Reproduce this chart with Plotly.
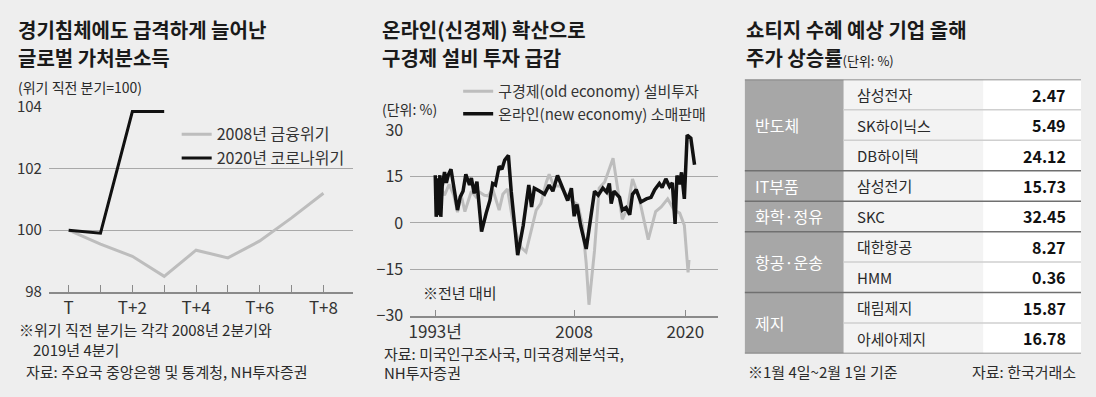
import plotly.graph_objects as go

W, H = 1096, 397
FONT = "Noto Sans CJK KR, Noto Sans, sans-serif"
BG = "#eeeeee"
GRID = "#a8a8a8"
AXIS = "#8a8a8a"
TXT = "#2a2a2a"

# ---------------- Panel 1 data ----------------
p1_x = [0, 1, 2, 3, 4, 5, 6, 7, 8]
p1_ticktext = ["T", "", "T+2", "", "T+4", "", "T+6", "", "T+8"]
crisis2008 = [100, 99.55, 99.15, 98.5, 99.35, 99.1, 99.65, 100.4, 101.2]
covid_x = [0, 1, 2, 3]
covid2020 = [100, 99.9, 103.85, 103.85]
p1_yticks = [98, 100, 102, 104]

# ---------------- Panel 2 data ----------------
new_years = [1993.0, 1993.1, 1993.25, 1993.35, 1993.5, 1993.6, 1993.75, 1994.0, 1994.2, 1994.4,
             1994.7, 1995.1, 1995.4, 1995.7, 1996.0, 1996.3, 1996.7, 1996.9, 1997.2, 1997.5,
             1997.8, 1998.0, 1998.5, 1998.9, 1999.2, 1999.5, 1999.9, 2000.2, 2000.5, 2000.9,
             2001.2, 2001.9, 2002.5, 2003.1, 2003.4, 2003.7, 2004.3, 2004.8, 2005.3, 2005.7,
             2006.2, 2006.8, 2007.3, 2007.7, 2008.0, 2008.3, 2008.7, 2009.3, 2009.8, 2010.2,
             2010.6, 2011.1, 2011.5, 2011.8, 2012.0, 2012.3, 2012.9, 2013.2, 2013.6, 2014.0,
             2014.3, 2014.7, 2015.2, 2015.8, 2016.3, 2016.7, 2017.2, 2017.5, 2017.9, 2018.3,
             2018.6, 2018.9, 2019.1, 2019.35, 2019.6, 2019.9, 2020.2, 2020.6, 2021.0]
new_vals = [15.5, 2.0, 14.5, 2.5, 15.5, 2.0, 12.0, 16.5, 13.0, 15.5,
            17.4, 10.3, 4.2, 8.5, 10.3, 15.8, 12.3, 14.6, 9.6, 13.4,
            4.2, -2.8, 3.2, 7.3, 12.8, 12.3, 18.4, 17.4, 20.4, 21.9,
            10.3, -10.4, -0.8, 12.3, 5.2, 11.3, 10.3, 9.3, 12.3, 10.3,
            15.4, 11.3, 7.3, 11.3, 2.2, 6.0, -0.8, -8.4, 1.2, 10.3,
            9.0, 11.3, 10.0, 12.8, 6.3, 10.3, 8.3, 4.2, 5.0, 2.7,
            9.3, 10.8, 6.8, 7.8, 8.3, 10.8, 12.8, 11.5, 14.3, 11.8,
            13.0, -0.3, 15.4, 12.5, 16.4, 7.8, 28.5, 27.5, 18.9]

old_years = [1993.0, 1993.5, 1994.0, 1994.5, 1995.0, 1995.4, 1995.8, 1996.2, 1996.9, 1997.4,
             1997.8, 1998.3, 1998.7, 1999.2, 1999.9, 2000.3, 2000.8, 2001.3, 2001.8, 2002.3,
             2002.8, 2003.4, 2003.9, 2004.4, 2005.0, 2005.3, 2005.8, 2006.5, 2007.2, 2007.8,
             2008.4, 2008.9, 2009.3, 2009.6, 2010.2, 2010.7, 2011.3, 2012.2, 2012.7, 2013.2,
             2013.8, 2014.3, 2015.0, 2016.0, 2016.8, 2017.4, 2018.1, 2018.8, 2019.4, 2019.9,
             2020.3, 2020.4]
old_vals = [10.0, 12.0, 9.0, 12.5, 9.0, 3.5, 9.0, 3.7, 10.3, 8.5,
            10.0, 9.0, 8.8, 11.0, 4.2, 9.3, 11.0, 2.0, -4.0, -8.0,
            -9.4, -1.8, 4.2, 6.3, 13.3, 15.8, 12.0, 12.0, 9.0, 7.0,
            6.0, -0.8, -13.0, -26.5, -8.9, 11.3, 13.3, 21.0, 11.3, 1.2,
            5.2, 14.3, 8.3, -5.4, 3.7, 5.2, 7.8, 4.2, 3.2, -0.8,
            -16.0, -12.0]
p2_yticks = [-30, -15, 0, 15, 30]
p2_xticks = [1993, 2008, 2020]
p2_xticktext = ["1993년", "2008", "2020"]

# ---------------- Panel 3 data ----------------
groups = ["반도체", "IT부품", "화학·정유", "항공·운송", "제지"]
group_sizes = [3, 1, 1, 2, 2]
companies = ["삼성전자", "SK하이닉스", "DB하이텍", "삼성전기", "SKC", "대한항공", "HMM", "대림제지", "아세아제지"]
returns = [2.47, 5.49, 24.12, 15.73, 32.45, 8.27, 0.36, 15.87, 16.78]


def px(x):
    return x / W


def py(y):
    return 1 - y / H


fig = go.Figure()

# Panel 1 traces
fig.add_trace(go.Scatter(x=p1_x, y=crisis2008, mode="lines", name="2008년 금융위기",
                         line=dict(color="#bdbdbd", width=3), xaxis="x", yaxis="y", legend="legend"))
fig.add_trace(go.Scatter(x=covid_x, y=covid2020, mode="lines", name="2020년 코로나위기",
                         line=dict(color="#111111", width=3), xaxis="x", yaxis="y", legend="legend"))

# Panel 2 traces
fig.add_trace(go.Scatter(x=old_years, y=old_vals, mode="lines", name="구경제(old economy) 설비투자",
                         line=dict(color="#bdbdbd", width=3), xaxis="x2", yaxis="y2", legend="legend2"))
fig.add_trace(go.Scatter(x=new_years, y=new_vals, mode="lines", name="온라인(new economy) 소매판매",
                         line=dict(color="#111111", width=3.5), xaxis="x2", yaxis="y2", legend="legend2"))

# ---------------- Panel 3 table (shapes on axis 3) ----------------
COL1, COL2 = 0.294, 0.709
shapes = []
n_rows = len(companies)
for i in range(n_rows):
    shapes.append(dict(type="rect", xref="x3", yref="y3", x0=COL1, x1=COL2, y0=i, y1=i + 1,
                       fillcolor="#f3f3f3", line=dict(width=0), layer="below"))
    shapes.append(dict(type="rect", xref="x3", yref="y3", x0=COL2, x1=1, y0=i, y1=i + 1,
                       fillcolor="#ffffff", line=dict(width=0), layer="below"))
start = 0
group_starts = []
for g, n in zip(groups, group_sizes):
    group_starts.append(start)
    shapes.append(dict(type="rect", xref="x3", yref="y3", x0=0, x1=COL1, y0=start, y1=start + n,
                       fillcolor="#a7a7a7", line=dict(width=0), layer="below"))
    start += n
group_edges = set(group_starts + [n_rows])
for i in range(1, n_rows):
    if i not in group_edges:
        shapes.append(dict(type="line", xref="x3", yref="y3", x0=COL1, x1=1, y0=i, y1=i,
                           line=dict(color="#cfcfcf", width=1.5)))
for e in sorted(group_edges):
    shapes.append(dict(type="line", xref="x3", yref="y3", x0=0, x1=1, y0=e, y1=e,
                       line=dict(color="#707070", width=1.5)))

annotations = []


def txt(x, y, s, size=15, color=TXT, xanchor="left", weight="normal", **kw):
    annotations.append(dict(x=px(x), y=py(y), xref="paper", yref="paper", text=s, showarrow=False,
                            xanchor=xanchor, yanchor="middle",
                            font=dict(family=FONT, size=size, color=color, weight=weight), **kw))


for g, n, s in zip(groups, group_sizes, group_starts):
    annotations.append(dict(x=0.024, y=s + n / 2, xref="x3", yref="y3", text=g, showarrow=False,
                            xanchor="left", yanchor="middle",
                            font=dict(family=FONT, size=16, color="#ffffff")))
for i, (c, v) in enumerate(zip(companies, returns)):
    annotations.append(dict(x=0.329, y=i + 0.5, xref="x3", yref="y3", text=c, showarrow=False,
                            xanchor="left", yanchor="middle",
                            font=dict(family=FONT, size=15, color=TXT)))
    annotations.append(dict(x=0.96, y=i + 0.5, xref="x3", yref="y3", text=f"{v:.2f}", showarrow=False,
                            xanchor="right", yanchor="middle",
                            font=dict(family=FONT, size=16, color="#111111", weight="bold")))

# Titles and notes
TITLE = "#1a1a1a"
txt(14, 18, "경기침체에도 급격하게 늘어난", size=20, color=TITLE, weight="bold")
txt(14, 47, "글로벌 가처분소득", size=20, color=TITLE, weight="bold")
txt(14, 79, "(위기 직전 분기=100)", size=14)
txt(15, 337, "※위기 직전 분기는 각각 2008년 2분기와", size=15)
txt(29, 358, "2019년 4분기", size=15)
txt(22, 382, "자료: 주요국 중앙은행 및 통계청, NH투자증권", size=15)

txt(379, 18, "온라인(신경제) 확산으로", size=20, color=TITLE, weight="bold")
txt(379, 47, "구경제 설비 투자 급감", size=20, color=TITLE, weight="bold")
txt(379, 102, "(단위: %)", size=14)
txt(420, 298, "※전년 대비", size=15)
txt(381, 362, "자료: 미국인구조사국, 미국경제분석국,", size=15)
txt(381, 383, "NH투자증권", size=15)

txt(743, 18, "쇼티지 수혜 예상 기업 올해", size=20, color=TITLE, weight="bold")
txt(743, 47, "주가 상승률<span style='font-size:13px;font-weight:normal'>(단위: %)</span>", size=20,
    color=TITLE, weight="bold")
txt(745, 382, "※1월 4일~2월 1일 기준", size=15)
txt(1078, 382, "자료: 한국거래소", size=15, xanchor="right")

fig.update_layout(
    width=W, height=H, autosize=False,
    margin=dict(l=0, r=0, t=0, b=0, pad=0),
    paper_bgcolor=BG, plot_bgcolor=BG,
    font=dict(family=FONT, color=TXT),
    showlegend=True,
    xaxis=dict(domain=[px(47), px(352)], range=[-0.62, 8.94], tickvals=p1_x, ticktext=p1_ticktext,
               ticks="inside", ticklen=7, tickcolor=AXIS, showgrid=False, zeroline=False,
               showline=True, linecolor=AXIS, linewidth=1.5,
               tickfont=dict(family=FONT, size=17, color="#333333"), anchor="y", fixedrange=True),
    yaxis=dict(domain=[py(296.7), py(100)], range=[98, 104], tickvals=p1_yticks,
               showgrid=True, gridcolor=GRID, gridwidth=1, zeroline=False, showline=False,
               ticks="", tickfont=dict(family=FONT, size=15, color="#333333"), ticklabelstandoff=6,
               anchor="x", fixedrange=True),
    xaxis2=dict(domain=[px(409), px(717)], range=[1990.3, 2023.5], tickvals=p2_xticks,
                ticktext=p2_xticktext, ticks="inside", ticklen=6, tickcolor=AXIS, showgrid=False,
                zeroline=False, showline=True, linecolor=AXIS, linewidth=1.5,
                tickfont=dict(family=FONT, size=17, color="#333333"), anchor="y2", fixedrange=True),
    yaxis2=dict(domain=[py(322), py(125)], range=[-30, 30], tickvals=p2_yticks,
                showgrid=True, gridcolor=GRID, gridwidth=1, zeroline=False, showline=False,
                ticks="", tickfont=dict(family=FONT, size=16, color="#333333"), ticklabelstandoff=6,
                anchor="x2", fixedrange=True),
    xaxis3=dict(domain=[px(744), px(1081)], range=[0, 1], visible=False, anchor="y3", fixedrange=True),
    yaxis3=dict(domain=[py(362.3), py(70.7)], range=[n_rows, 0], visible=False, anchor="x3", fixedrange=True),
    legend=dict(x=px(175), y=py(111), xanchor="left", yanchor="top", bgcolor="rgba(0,0,0,0)",
                font=dict(family=FONT, size=16, color="#333333"), tracegroupgap=0, itemwidth=30),
    legend2=dict(x=px(457), y=py(66), xanchor="left", yanchor="top", bgcolor="rgba(0,0,0,0)",
                 font=dict(family=FONT, size=15, color="#333333"), tracegroupgap=0, itemwidth=30),
    shapes=shapes,
    annotations=annotations,
)

fig.write_html(
    "out.html",
    config={"displayModeBar": False, "responsive": False},
    post_script="document.documentElement.style.margin='0';document.body.style.margin='0';"
                "document.body.style.padding='0';document.body.style.overflow='hidden';"
                "document.documentElement.style.overflow='hidden';",
)
